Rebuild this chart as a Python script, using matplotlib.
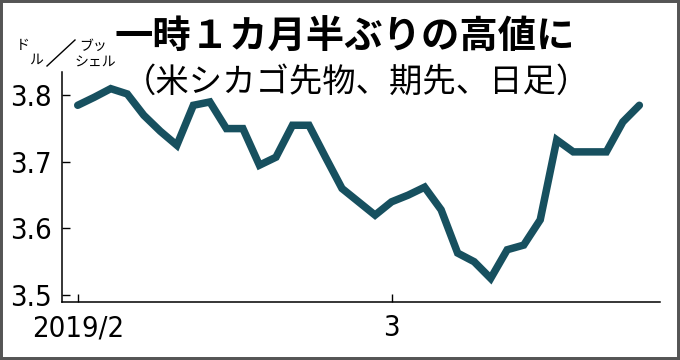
import matplotlib
matplotlib.use("Agg")
import matplotlib.pyplot as plt
import matplotlib.patches as patches
from matplotlib import font_manager
import numpy as np

# ---- data (US Chicago futures, deferred contract, daily close, $/bushel) ----
dates = ["2019-02-01", "2019-02-04", "2019-02-05", "2019-02-06", "2019-02-07", "2019-02-08",
         "2019-02-11", "2019-02-12", "2019-02-13", "2019-02-14", "2019-02-15",
         "2019-02-19", "2019-02-20", "2019-02-21", "2019-02-22",
         "2019-02-25", "2019-02-26", "2019-02-27", "2019-02-28",
         "2019-03-01", "2019-03-04", "2019-03-05", "2019-03-06", "2019-03-07", "2019-03-08",
         "2019-03-11", "2019-03-12", "2019-03-13", "2019-03-14", "2019-03-15",
         "2019-03-18", "2019-03-19", "2019-03-20", "2019-03-21", "2019-03-22"]
prices = [3.785, 3.797, 3.810, 3.802, 3.770, 3.746, 3.725, 3.785, 3.790, 3.750, 3.750,
          3.695, 3.707, 3.755, 3.755, 3.707, 3.660, 3.640, 3.620,
          3.640, 3.650, 3.662, 3.628, 3.563, 3.550, 3.525, 3.568, 3.575, 3.613, 3.733,
          3.715, 3.715, 3.715, 3.760, 3.785]
yticks = [3.5, 3.6, 3.7, 3.8]
ytick_labels = ["3.5", "3.6", "3.7", "3.8"]
xtick_dates = ["2019-02-01", "2019-03-01"]
xtick_labels = ["2019/2", "3"]

title = "一時１カ月半ぶりの高値に"
subtitle = "（米シカゴ先物、期先、日足）"

CJK = "Noto Sans CJK JP"
names = {f.name for f in font_manager.fontManager.ttflist}
if "Liberation Sans Narrow" in names:
    num_font = dict(family="Liberation Sans Narrow")
    num_size = 24
else:
    num_font = dict(family="DejaVu Sans", stretch="condensed")
    num_size = 21

line_color = "#17505f"

fig = plt.figure(figsize=(6.8, 3.6), dpi=100)
fig.patch.set_facecolor("white")
ax = fig.add_axes([61.7 / 680, 1 - 302 / 360, (660 - 61.7) / 680, (302 - 72) / 360])

x = np.arange(len(prices))
ax.plot(x, prices, color=line_color, lw=5.4, solid_joinstyle="miter", solid_capstyle="round")

ax.set_xlim(-0.97, 35.25)
ax.set_ylim(3.4895, 3.835)

for s in ["top", "right"]:
    ax.spines[s].set_visible(False)
for s in ["left", "bottom"]:
    ax.spines[s].set_linewidth(1.1)
    ax.spines[s].set_color("black")

ax.set_yticks(yticks)
ax.set_yticklabels(ytick_labels, fontsize=num_size, **num_font)
ax.tick_params(axis="y", direction="in", length=6, width=1.0, pad=7)

xt = [dates.index(d) for d in xtick_dates]
ax.set_xticks(xt)
ax.set_xticklabels(xtick_labels, fontsize=num_size, **num_font)
ax.tick_params(axis="x", direction="in", length=6, width=1.0, pad=9)

# titles
fig.text(345 / 680, 1 - 37 / 360, title, fontsize=27.6, fontweight="bold",
         family=[CJK, "DejaVu Sans"], ha="center", va="center")
fig.text(356 / 680, 1 - 82 / 360, subtitle, fontsize=24,
         family=[CJK, "DejaVu Sans"], ha="center", va="center")

# unit label
uf = dict(fontsize=10, family=[CJK, "DejaVu Sans"], ha="center", va="center")
fig.text(23 / 680, 1 - 45 / 360, "ド", **uf)
fig.text(36 / 680, 1 - 60 / 360, "ル", **uf)
fig.text(93 / 680, 1 - 46 / 360, "ブッ", **uf)
fig.text(95 / 680, 1 - 63 / 360, "シェル", **uf)
fig.add_artist(plt.Line2D([47 / 680, 75 / 680], [1 - 66 / 360, 1 - 40 / 360],
                          transform=fig.transFigure, color="black", lw=1.0))

# outer frame
fig.add_artist(patches.Rectangle((0, 0), 1, 1, transform=fig.transFigure,
                                 fill=False, edgecolor="#555555", lw=4.3))

fig.savefig("out.png", dpi=100, facecolor="white")
